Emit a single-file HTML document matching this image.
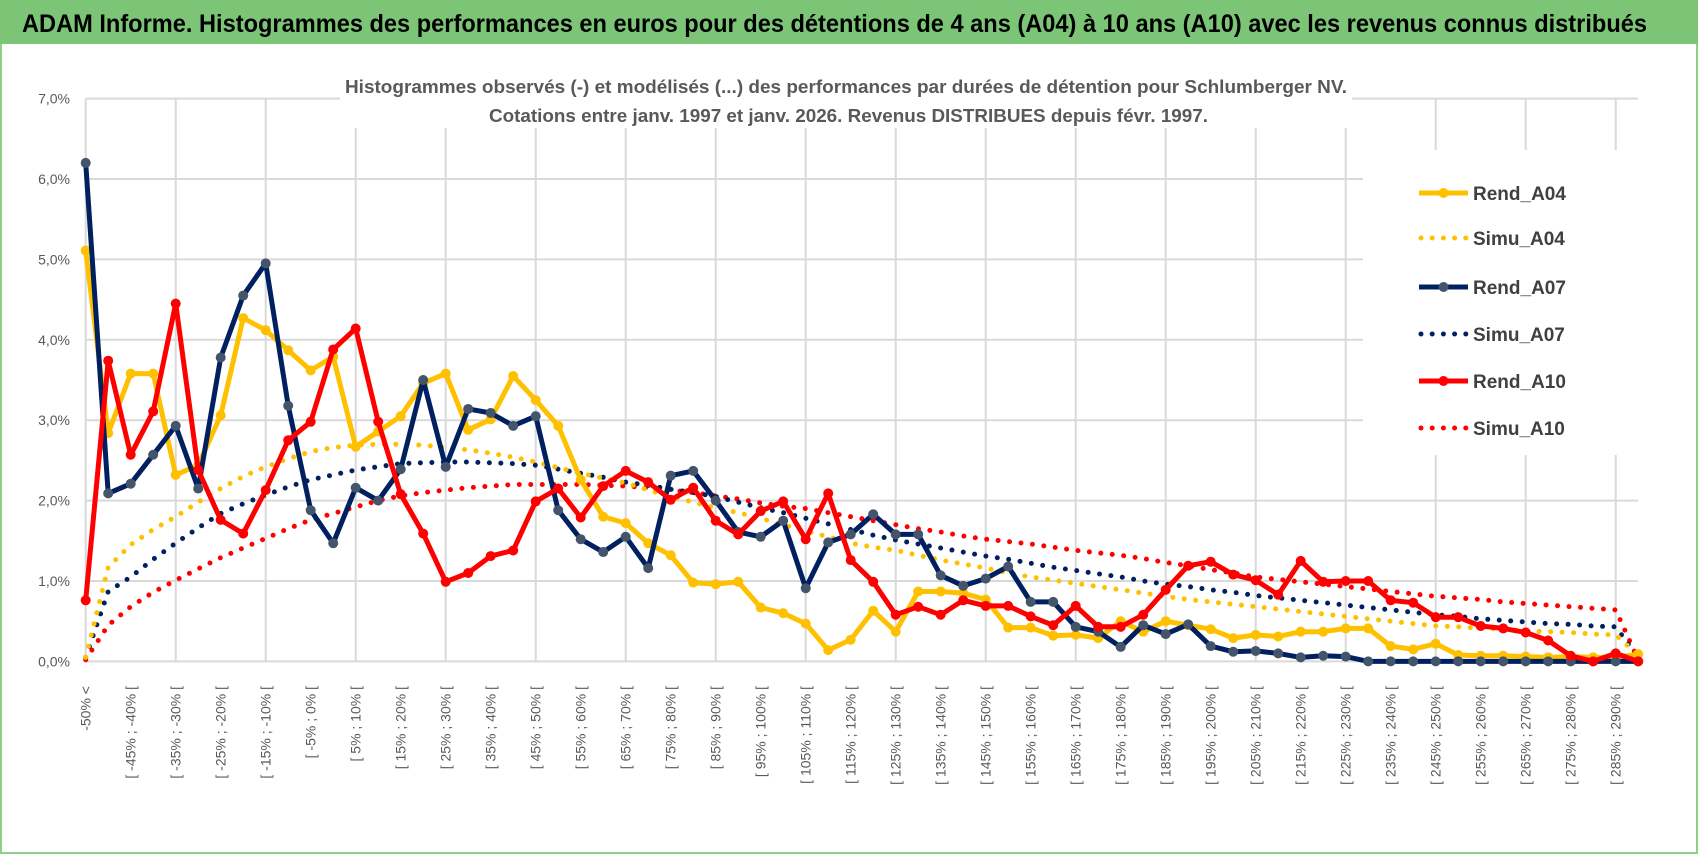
<!DOCTYPE html>
<html><head><meta charset="utf-8">
<style>
html,body{margin:0;padding:0;background:#fff;}
#wrap{position:relative;width:1698px;height:854px;overflow:hidden;background:#fff;}
svg text{font-family:"Liberation Sans",sans-serif;}
</style></head>
<body>
<div id="wrap">
<svg id="chart" width="1698" height="854" viewBox="0 0 1698 854">
  <rect x="1" y="1" width="1696" height="852" fill="#fff" stroke="#8fd08a" stroke-width="2"/>
  <rect x="0" y="0" width="1698" height="44" fill="#7cc576"/>
  <text x="22" y="32" font-size="25" font-weight="bold" fill="#000" textLength="1625" lengthAdjust="spacingAndGlyphs">ADAM Informe. Histogrammes des performances en euros pour des détentions de 4 ans (A04) à 10 ans (A10) avec les revenus connus distribués</text>
  <g id="grid"></g>
  <rect x="340" y="72" width="1012" height="56" fill="#fff"/>
  <text x="345" y="93" font-size="18" font-weight="bold" fill="#595959" textLength="1002" lengthAdjust="spacingAndGlyphs">Histogrammes observés (-) et modélisés (...) des performances par durées de détention pour Schlumberger NV.</text>
  <text x="489" y="122" font-size="18" font-weight="bold" fill="#595959" textLength="719" lengthAdjust="spacingAndGlyphs">Cotations entre janv. 1997 et janv. 2026. Revenus DISTRIBUES depuis févr. 1997.</text>
  <g id="yaxis"></g>
  <g id="xaxis"></g>
  <g id="series"></g>
  <g id="legend"></g>
</svg>
</div>
<script>
const categories = (function(){ const c=["-50% <"]; for(let v=-50; v<295; v+=5){ c.push("[ "+v+"% ; "+(v+5)+"% ["); } return c; })();
const yTicks = [0,1,2,3,4,5,6,7];
const yTickLabels = ["0,0%","1,0%","2,0%","3,0%","4,0%","5,0%","6,0%","7,0%"];
const seriesNames = ["Rend_A04","Simu_A04","Rend_A07","Simu_A07","Rend_A10","Simu_A10"];
const rendA04 = [5.11,2.84,3.58,3.58,2.32,2.44,3.06,4.27,4.12,3.87,3.62,3.79,2.67,2.86,3.05,3.46,3.58,2.88,3.01,3.55,3.25,2.93,2.26,1.8,1.72,1.47,1.32,0.98,0.96,0.99,0.67,0.6,0.47,0.14,0.27,0.63,0.37,0.87,0.87,0.85,0.77,0.42,0.42,0.32,0.33,0.29,0.5,0.37,0.5,0.45,0.4,0.29,0.33,0.31,0.37,0.37,0.41,0.41,0.19,0.15,0.22,0.08,0.07,0.07,0.06,0.05,0.06,0.05,0.05,0.09];
const simuA04 = [0.05,1.17,1.45,1.64,1.8,1.98,2.15,2.3,2.42,2.52,2.61,2.66,2.69,2.7,2.7,2.69,2.66,2.63,2.59,2.54,2.48,2.41,2.34,2.28,2.22,2.13,2.05,1.98,1.91,1.85,1.78,1.7,1.62,1.55,1.47,1.42,1.38,1.32,1.26,1.21,1.16,1.1,1.05,1.01,0.97,0.93,0.89,0.85,0.81,0.77,0.74,0.71,0.68,0.65,0.62,0.59,0.56,0.53,0.5,0.47,0.44,0.43,0.41,0.4,0.38,0.37,0.36,0.34,0.33,0.08];
const rendA07 = [6.2,2.09,2.21,2.57,2.93,2.15,3.78,4.55,4.95,3.18,1.88,1.47,2.16,2.0,2.39,3.5,2.42,3.14,3.09,2.93,3.05,1.88,1.52,1.36,1.55,1.16,2.31,2.37,2.0,1.61,1.55,1.75,0.91,1.48,1.58,1.83,1.58,1.58,1.07,0.94,1.03,1.18,0.74,0.74,0.43,0.37,0.18,0.45,0.34,0.46,0.19,0.12,0.13,0.1,0.05,0.07,0.06,0,0,0,0,0,0,0,0,0,0,0,0,0];
const simuA07 = [0.05,0.87,1.05,1.27,1.47,1.66,1.84,1.96,2.07,2.17,2.26,2.32,2.38,2.42,2.46,2.47,2.48,2.48,2.47,2.46,2.44,2.39,2.34,2.29,2.23,2.19,2.14,2.1,2.05,1.98,1.91,1.85,1.78,1.71,1.64,1.57,1.51,1.46,1.41,1.36,1.31,1.27,1.22,1.17,1.13,1.09,1.05,1.0,0.96,0.93,0.89,0.86,0.82,0.79,0.76,0.73,0.7,0.67,0.64,0.61,0.58,0.56,0.53,0.51,0.49,0.47,0.46,0.44,0.43,0.05];
const rendA10 = [0.76,3.74,2.57,3.11,4.45,2.38,1.76,1.59,2.13,2.75,2.98,3.88,4.14,2.98,2.08,1.59,0.99,1.1,1.31,1.38,1.99,2.15,1.79,2.18,2.37,2.23,2.01,2.16,1.75,1.58,1.87,1.99,1.52,2.09,1.26,0.99,0.58,0.68,0.58,0.76,0.69,0.69,0.56,0.45,0.69,0.43,0.43,0.58,0.89,1.19,1.24,1.08,1.01,0.83,1.25,0.99,1.0,1.0,0.76,0.73,0.55,0.55,0.44,0.41,0.36,0.26,0.07,0,0.1,0];
const simuA10 = [0.02,0.45,0.68,0.86,1.01,1.15,1.29,1.41,1.53,1.65,1.76,1.84,1.92,2.0,2.06,2.1,2.13,2.16,2.18,2.2,2.2,2.2,2.2,2.19,2.18,2.16,2.13,2.1,2.06,2.02,1.97,1.93,1.9,1.85,1.8,1.75,1.7,1.65,1.61,1.56,1.52,1.49,1.46,1.42,1.38,1.35,1.32,1.28,1.23,1.19,1.14,1.1,1.05,1.02,0.99,0.96,0.93,0.9,0.87,0.84,0.81,0.79,0.77,0.74,0.72,0.7,0.68,0.66,0.64,0.02];

const NS="http://www.w3.org/2000/svg";
const X0=85.7, DX=22.5, Y0=661.4, DY=80.4;
function xs(i){ return X0 + i*DX; }
function ys(v){ return Y0 - v*DY; }
function mk(tag, attrs, parent){ const e=document.createElementNS(NS,tag); for(const k in attrs) e.setAttribute(k, attrs[k]); parent.appendChild(e); return e; }

const grid=document.getElementById('grid');
const xEnd = xs(categories.length-1);
yTicks.forEach(function(t){
  const l = mk('line',{x1:X0,x2:xEnd,y1:ys(t),y2:ys(t),stroke:'#d9d9d9','stroke-width':2},grid);
  
  
});
for(let i=0;i<categories.length;i+=4){
  const l = mk('line',{x1:xs(i),x2:xs(i),y1:ys(7),y2:ys(0),stroke:'#d9d9d9','stroke-width':2},grid);
  
  
}
const yaxis=document.getElementById('yaxis');
yTicks.forEach(function(t,k){
  const tx = mk('text',{x:70,y:ys(t)+5,'font-size':14,fill:'#595959','text-anchor':'end'},yaxis);
  tx.textContent = yTickLabels[k];
  
  
});
const xaxis=document.getElementById('xaxis');
categories.forEach(function(c,i){
  if(i%2) return;
  const x=xs(i)+5, y=686;
  const tx = mk('text',{x:x,y:y,'font-size':14,fill:'#595959','text-anchor':'end',transform:'rotate(-90 '+x+' '+y+')'},xaxis);
  tx.textContent = c;
  
  
});

const colors={A04:'#ffc000',A07:'#002060',A10:'#ff0000'};
const sg=document.getElementById('series');
function pathOf(arr){ return arr.map(function(v,i){ return (i?'L':'M')+xs(i).toFixed(1)+' '+ys(v).toFixed(1); }).join(' '); }
function drawSimu(arr,col,name){
  const p = mk('path',{d:pathOf(arr),fill:'none',stroke:col,'stroke-width':5,'stroke-linecap':'round','stroke-dasharray':'0 11.5'},sg);
  
  
}
function drawRend(arr,col,mcol,name){
  const p = mk('path',{d:pathOf(arr),fill:'none',stroke:col,'stroke-width':5,'stroke-linejoin':'round'},sg);
  
  
  arr.forEach(function(v,i){
    const c = mk('circle',{cx:xs(i),cy:ys(v),r:5,fill:mcol},sg);
    
    
  });
}
drawSimu(simuA10,colors.A10,'simu-a10-line');
drawSimu(simuA07,colors.A07,'simu-a07-line');
drawSimu(simuA04,colors.A04,'simu-a04-line');
drawRend(rendA04,colors.A04,'#ffc000','rend-a04-line');
drawRend(rendA07,colors.A07,'#44546a','rend-a07-line');
drawRend(rendA10,colors.A10,'#ff0000','rend-a10-line');

const lg=document.getElementById('legend');
const bg = mk('rect',{x:1363,y:150,width:280,height:305,fill:'#fff'},lg);


const legY=[193,238,287,334,381,428];
const legCol=[colors.A04,colors.A04,colors.A07,colors.A07,colors.A10,colors.A10];
seriesNames.forEach(function(n,k){
  const dotted = n.indexOf('Simu')===0;
  const g = mk('g',{},lg);
  
  
  if(dotted){
    mk('line',{x1:1421,x2:1466,y1:legY[k],y2:legY[k],stroke:legCol[k],'stroke-width':5,'stroke-linecap':'round','stroke-dasharray':'0 11.2'},g);
  } else {
    mk('line',{x1:1419,x2:1468,y1:legY[k],y2:legY[k],stroke:legCol[k],'stroke-width':5},g);
    mk('circle',{cx:1443.5,cy:legY[k],r:5,fill:k===2?'#44546a':legCol[k]},g);
  }
  const t = mk('text',{x:1473,y:legY[k]+7,'font-size':19,'font-weight':'bold',fill:'#404040'},g);
  t.textContent = n;
});
</script>
</body></html>
